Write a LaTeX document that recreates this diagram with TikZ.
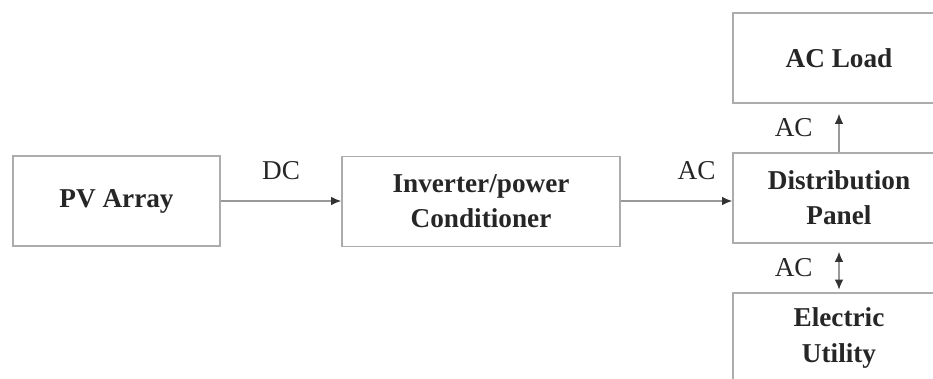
\documentclass[tikz,border=0pt]{standalone}
\usepackage{fontspec}
\setmainfont{Liberation Serif}
\usepackage{tikz}
\usetikzlibrary{positioning,arrows.meta}

\begin{document}
\begin{tikzpicture}[every node/.style={font=\fontsize{15.5}{18}\selectfont, text=black!85}, box/.style={draw=gray!65, line width=1pt, align=center, font=\fontsize{15.5}{20}\selectfont\bfseries, minimum height=18mm}, tip/.style={Latex[length=2mm,width=1.7mm,color=black!80]}, link/.style={draw=gray!80, line width=0.6pt, -{Latex[length=2mm,width=1.7mm,color=black!80]}}]
\begin{scope}
\clip (0,0) rectangle (18.66,7.56);
\node[box, minimum width=41.4mm] (pv) at (2.33,3.54) {PV Array};
\node[box, minimum width=55.6mm] (inv) at (9.62,3.53) {Inverter/power\\Conditioner};
\node[box, minimum width=42.4mm] (panel) at (16.78,3.6) {Distribution\\Panel};
\node[box, minimum width=42.4mm] (load) at (16.78,6.4) {AC Load};
\node[box, minimum width=42.4mm] (grid) at (16.78,0.8) {Electric\\Utility};
\draw[link] (pv.east |- 0,3.54) -- (inv.west |- 0,3.54) node[midway, above=3mm] {DC};
\draw[link] (inv.east |- 0,3.54) -- (panel.west |- 0,3.54) node[midway, above=3mm, xshift=4mm] {AC};
\draw[link, shorten >=2mm] (panel.north) -- (load.south) node[midway, left=4mm] {AC};
\draw[link, {Latex[length=2mm,width=1.7mm,color=black!80]}-{Latex[length=2mm,width=1.7mm,color=black!80]}, shorten <=1.6mm, shorten >=0.5mm] (panel.south) -- (grid.north) node[midway, left=4mm] {AC};
\end{scope}
\pgfresetboundingbox
\useasboundingbox (0,0) rectangle (18.66,7.56);
\end{tikzpicture}
\end{document}
